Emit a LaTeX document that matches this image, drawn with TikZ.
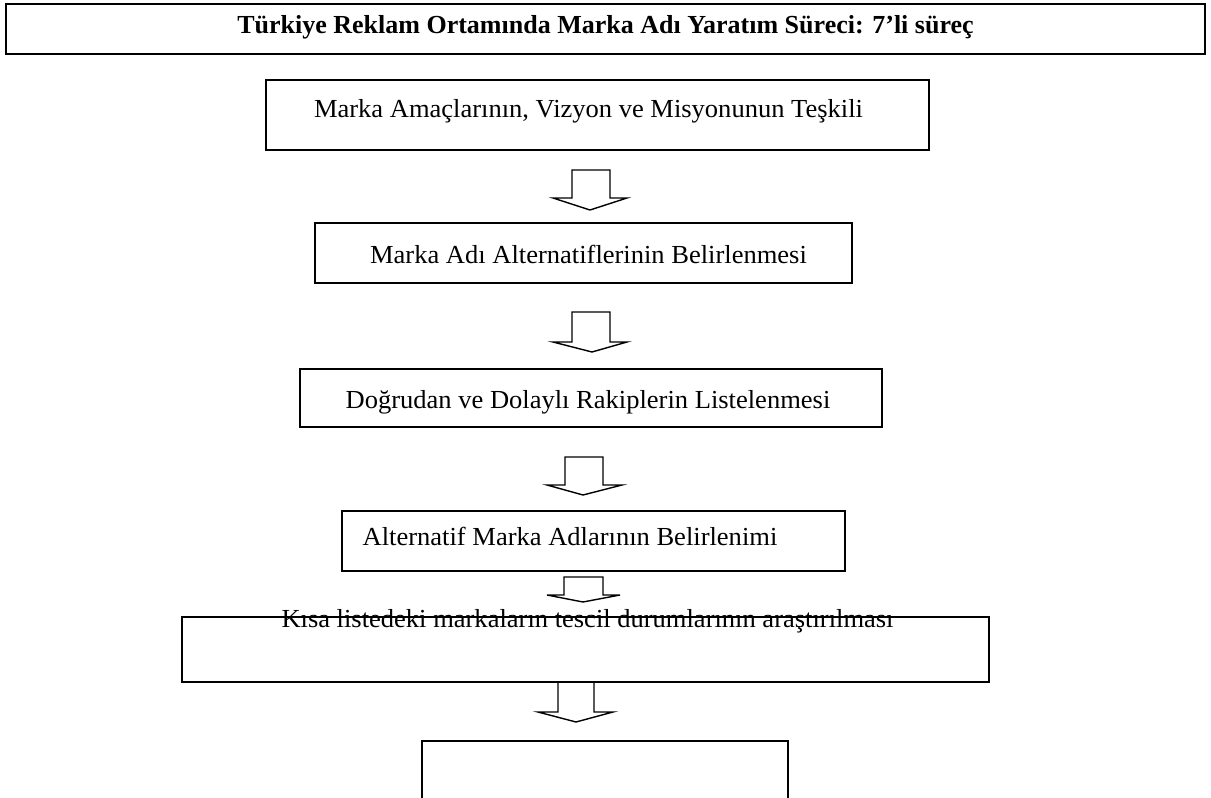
\documentclass[tikz,border=0pt]{standalone}
\usepackage{fontspec}
\setmainfont{Liberation Serif}
\newcommand{\blockarr}[8]{% stem left, stem right, top, wing y, wing left, wing right, tip x, tip y
  \draw[arrowline] (#1,#3) -- (#2,#3) -- (#2,#4) -- (#6,#4) -- (#7,#8) -- (#5,#4) -- (#1,#4) -- cycle;}
\begin{document}
\begin{tikzpicture}[x=1pt,y=-1pt,
  box/.style={draw, line width=1.4pt, outer sep=0pt, inner sep=0pt},
  titlebox/.style={draw, line width=2.4pt, outer sep=0pt, inner sep=0pt},
  arrowline/.style={line width=1.4pt, line join=miter},
  txt/.style={inner sep=0pt, anchor=base, font=\fontsize{26}{30}\selectfont, xscale=1.02, transform shape},
  ttxt/.style={inner sep=0pt, anchor=base, font=\fontsize{26}{30}\selectfont\bfseries}]
\useasboundingbox (0,0) rectangle (1211,798);
\clip (0,0) rectangle (1211,798);

% title
\node[titlebox, minimum width=1199pt, minimum height=50pt] (title) at (605.5,29) {};
\node[ttxt] (titletext) at (605.5,33) {Türkiye Reklam Ortamında Marka Adı Yaratım Süreci: 7’li süreç};

% boxes
\node[box, minimum width=663pt, minimum height=70pt] (b1) at (597.5,115) {};
\node[box, minimum width=537pt, minimum height=60pt] (b2) at (583.5,253) {};
\node[box, minimum width=582pt, minimum height=58pt] (b3) at (591,398) {};
\node[box, minimum width=503pt, minimum height=60pt] (b4) at (593.5,541) {};
\node[box, minimum width=807pt, minimum height=65pt] (b5) at (585.5,649.5) {};
\node[box, minimum width=366pt, minimum height=98pt] (b6) at (605,790) {};

% texts
\node[txt] (t1) at (588.5,117) {Marka Amaçlarının, Vizyon ve Misyonunun Teşkili};
\node[txt] (t2) at (588.5,263) {Marka Adı Alternatiflerinin Belirlenmesi};
\node[txt] (t3) at (588,408) {Doğrudan ve Dolaylı Rakiplerin Listelenmesi};
\node[txt] (t4) at (570,545) {Alternatif Marka Adlarının Belirlenimi};
\node[txt] (t5) at (587.5,627) {Kısa listedeki markaların tescil durumlarının araştırılması};

% block arrows
\blockarr{572}{610}{170}{198}{553}{627}{590}{210}
\blockarr{572}{610}{312}{342}{553}{627}{592}{352}
\blockarr{565}{603}{457}{485}{547}{622}{583}{495}
\blockarr{564}{603}{577}{595}{547}{620}{583}{602}
\blockarr{558}{594}{682}{712}{538}{613}{576}{722}
\end{tikzpicture}
\end{document}
